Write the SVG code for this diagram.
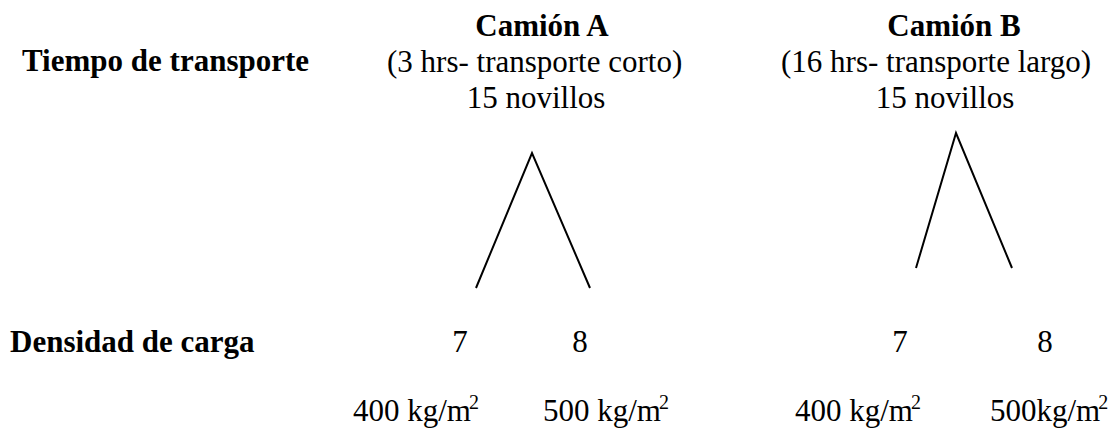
<svg xmlns="http://www.w3.org/2000/svg" width="1116" height="430" viewBox="0 0 1116 430">
<style>
text{font-family:"Liberation Serif","Times New Roman",serif;font-size:31px;fill:#000}
.b{font-weight:bold}
.m{text-anchor:middle}
.sup{font-size:20px}
.ln{fill:none;stroke:#000;stroke-width:2}
</style>
<rect width="1116" height="430" fill="#fff"/>
<g id="labels">
<text class="b" x="22" y="71">Tiempo de transporte</text>
<text class="b" x="10" y="352">Densidad de carga</text>
</g>
<g id="camionA">
<text class="b m" x="542" y="36">Camión A</text>
<text x="387" y="72">(3 hrs- transporte corto)</text>
<text class="m" x="536" y="108">15 novillos</text>
</g>
<g id="camionB">
<text class="b m" x="954" y="36">Camión B</text>
<text x="781" y="72">(16 hrs- transporte largo)</text>
<text class="m" x="945" y="108">15 novillos</text>
</g>
<g id="A7"><text class="m" x="460" y="352">7</text><text x="353" y="421">400 kg/m<tspan class="sup" dx="-2" dy="-12">2</tspan></text></g>
<g id="A8"><text class="m" x="580" y="352">8</text><text x="543" y="421">500 kg/m<tspan class="sup" dx="-2" dy="-12">2</tspan></text></g>
<g id="B7"><text class="m" x="900" y="352">7</text><text x="795" y="421">400 kg/m<tspan class="sup" dx="-2" dy="-12">2</tspan></text></g>
<g id="B8"><text class="m" x="1045" y="352">8</text><text x="990" y="421">500kg/m<tspan class="sup" dx="-2" dy="-12">2</tspan></text></g>
<g id="connectors">
<path class="ln" d="M476,288 L532,153 L590,288"/>
<path class="ln" d="M916,268 L956,133 L1012,268"/>
</g>
</svg>
